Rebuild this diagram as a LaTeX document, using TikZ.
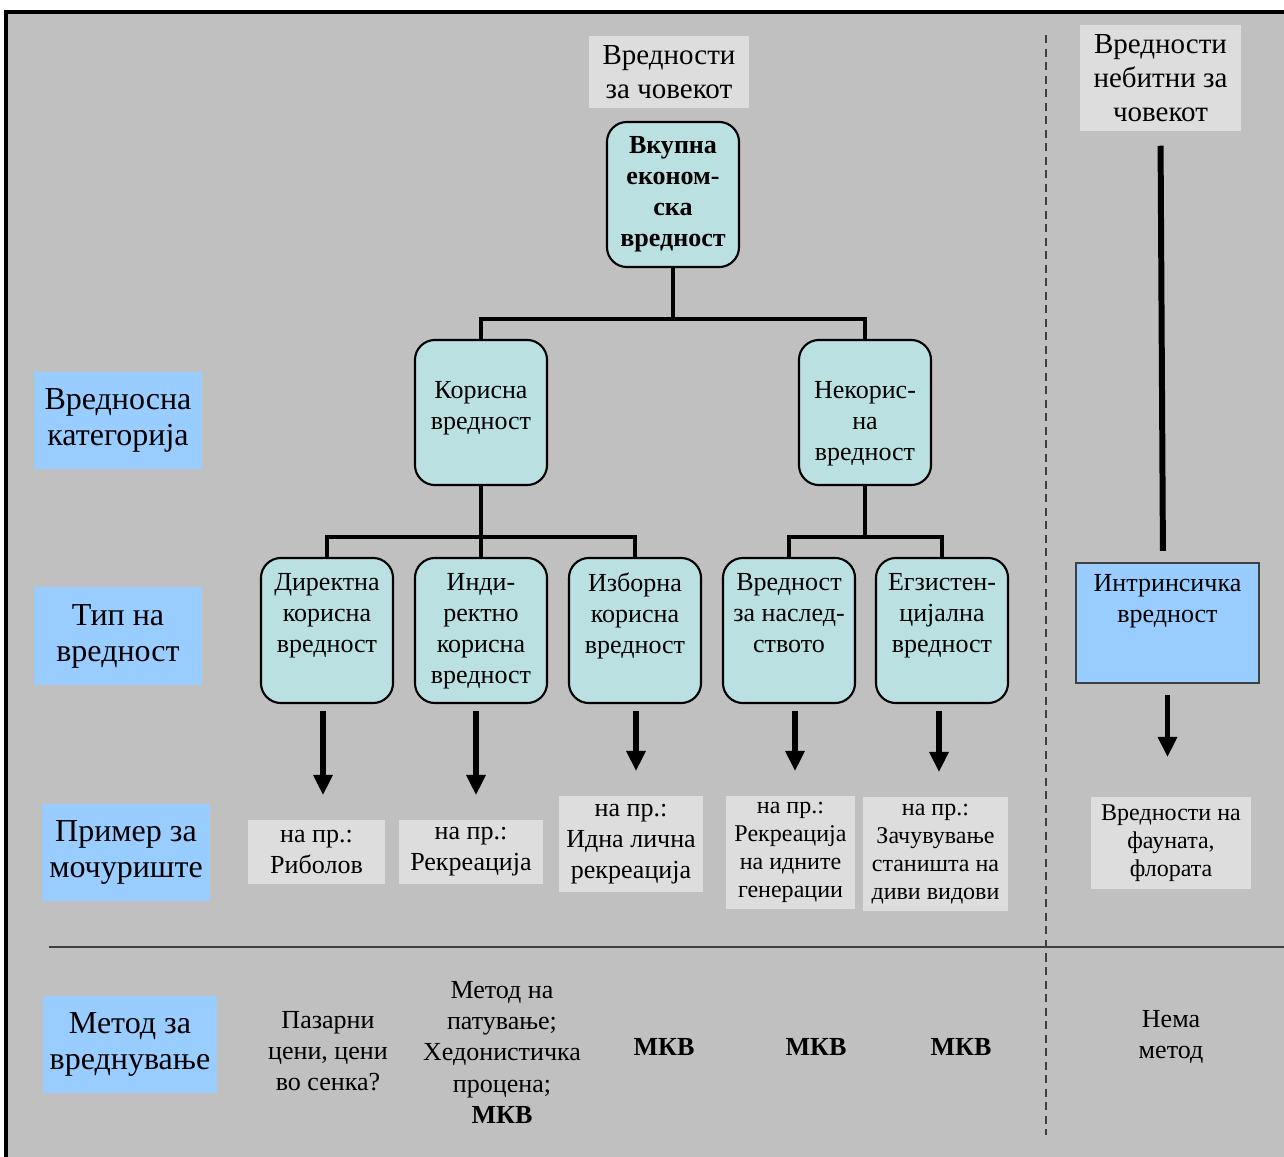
\documentclass[tikz,border=0pt]{standalone}
\usepackage{fontspec}
\setmainfont{Liberation Serif}
\usepackage{xcolor}
\definecolor{panel}{HTML}{C0C0C0}
\definecolor{notefill}{HTML}{DDDDDD}
\definecolor{headfill}{HTML}{99CCFF}
\definecolor{cellfill}{HTML}{BAE0E2}
\definecolor{rule}{HTML}{404040}
\usepackage{tikz}
\usetikzlibrary{arrows.meta, positioning, calc}
\newcommand{\cellsize}{\fontsize{7.4}{8.82}\selectfont}
\newcommand{\headsize}{\fontsize{9.1}{10.24}\selectfont}
\newcommand{\topsize}{\fontsize{8.25}{9.67}\selectfont}
\newcommand{\notesize}{\fontsize{6.83}{7.97}\selectfont}

\begin{document}
\begin{tikzpicture}[
  x=0.01cm, y=-0.01cm,
  font=\cellsize,
  cell/.style={
    draw, fill=cellfill, semithick, rounded corners=0.2cm,
    minimum width=1.32cm, minimum height=1.45cm, inner sep=1pt, align=center
  },
  celltext/.style={anchor=north, align=center, inner sep=0pt, yshift=-0.155cm, font=\cellsize},
  head/.style={fill=headfill, minimum width=1.68cm, minimum height=0.97cm, inner sep=1pt, align=center, font=\headsize},
  note/.style={fill=notefill, inner sep=1pt, align=center},
  link/.style={line width=1.4pt},
  pointer/.style={
    line width=1.5pt, -{Triangle[width=5.2pt,length=5.8pt]},
    shorten <=0.07cm, shorten >=0.24cm
  }
]
  \path[use as bounding box, fill=white] (0,0) rectangle (1284,1157);
  \clip (0,0) rectangle (1284,1157);
  \draw[line width=1.14pt, fill=panel] (6,12) rectangle (1300,1175);

  \draw[rule, line width=0.4pt, dash pattern=on 0.08cm off 0.055cm] (1046,35) -- (1046,1135);
  \draw[rule, line width=0.7pt] (49,947) -- (1284,947);

  \node[note, font=\topsize, minimum width=1.6cm, minimum height=0.72cm] (human) at (669,72) {Вредности\\за човекот};
  \node[note, font=\topsize, minimum width=1.61cm, minimum height=1.06cm] (nonhuman) at (1160.5,78) {Вредности\\небитни за\\човекот};

  \node[head] (cat) at (118,420.5) {Вредносна\\категорија};
  \node[head] (kind) at (118,636) {Тип на\\вредност};
  \node[head] (wet) at (126,852.5) {Пример за\\мочуриште};
  \node[head, minimum width=1.74cm] (meth) at (130,1044.5) {Метод за\\вреднување};

  \node[cell, font=\cellsize\bfseries] (total) at (673,194.5) {Вкупна\\економ-\\ска\\вредност};
  \node[cell, label={[celltext, yshift=-0.26cm]north:{Корисна\\вредност}}] (use) at (481,412.5) {};
  \node[cell, label={[celltext, yshift=-0.26cm]north:{Некорис-\\на\\вредност}}] (nonuse) at (865,412.5) {};

  \node[cell, label={[celltext]north:{Директна\\корисна\\вредност}}] (direct) at (327,630.5) {};
  \node[cell, label={[celltext]north:{Инди-\\ректно\\корисна\\вредност}}] (indirect) at (481,630.5) {};
  \node[cell, label={[celltext]north:{Изборна\\корисна\\вредност}}] (option) at (635,630.5) {};
  \node[cell, label={[celltext]north:{Вредност\\за наслед-\\ството}}] (bequest) at (789,630.5) {};
  \node[cell, label={[celltext]north:{Егзистен-\\цијална\\вредност}}] (exist) at (942,630.5) {};
  \node[draw=rule, semithick, fill=headfill, minimum width=1.83cm, minimum height=1.2cm,
    label={[celltext, yshift=0.04cm]north:{Интринсичка\\вредност}}] (intrinsic) at (1167.5,623) {};

  \node[note, minimum width=1.37cm, minimum height=0.64cm] (ex1) at (316.5,852) {на пр.:\\Риболов};
  \node[note, minimum width=1.44cm, minimum height=0.64cm] (ex2) at (471,852) {на пр.:\\Рекреација};
  \node[note, minimum width=1.44cm, minimum height=0.96cm] (ex3) at (631,844) {на пр.:\\Идна лична\\рекреација};
  \node[note, font=\notesize, minimum width=1.29cm, minimum height=1.13cm] (ex4) at (790.5,852.5) {на пр.:\\Рекреација\\на идните\\генерации};
  \node[note, font=\notesize, minimum width=1.45cm, minimum height=1.14cm] (ex5) at (935.5,854) {на пр.:\\Зачувување\\станишта на\\диви видови};
  \node[note, font=\notesize, minimum width=1.6cm, minimum height=0.92cm] (ex6) at (1171,843) {Вредности на\\фауната,\\флората};

  \node[align=center] (m1) at (328,1051) {Пазарни\\цени, цени\\во сенка?};
  \node[align=center] (m2) at (502,1052.5) {Метод на\\патување;\\Хедонистичка\\процена;\\\textbf{МКВ}};
  \node[font=\cellsize\bfseries] (m3) at (664,1047) {МКВ};
  \node[font=\cellsize\bfseries] (m4) at (816,1047) {МКВ};
  \node[font=\cellsize\bfseries] (m5) at (961,1047) {МКВ};
  \node[align=center] (m6) at (1171,1037) {Нема\\метод};

  \coordinate (split1) at (673,319);
  \coordinate (split2) at (481,537);
  \coordinate (split3) at (865,537);
  \draw[link] (total.south) -- (split1);
  \draw[link] (use.north) |- (split1) -| (nonuse.north);
  \draw[link] (use.south) -- (split2);
  \draw[link] (direct.north) |- (split2) -| (option.north);
  \draw[link] (split2) -- (indirect.north);
  \draw[link] (nonuse.south) -- (split3);
  \draw[link] (bequest.north) |- (split3) -| (exist.north);
  \draw[line width=1.7pt, shorten <=0.14cm, shorten >=0.11cm] (nonhuman.south) -- ([xshift=-0.045cm]intrinsic.north);

  \draw[pointer] ([xshift=-0.04cm]direct.south) -- ([xshift=-0.04cm]direct.south |- ex1.north);
  \draw[pointer] ([xshift=-0.05cm]indirect.south) -- ([xshift=-0.05cm]indirect.south |- ex2.north);
  \draw[pointer] ([xshift=0.01cm]option.south) -- ([xshift=0.01cm]option.south |- ex3.north);
  \draw[pointer] ([xshift=0.06cm]bequest.south) -- ([xshift=0.06cm]bequest.south |- ex4.north);
  \draw[pointer] ([xshift=-0.03cm]exist.south) -- ([xshift=-0.03cm]exist.south |- ex5.north);
  \draw[pointer, shorten <=0.11cm, shorten >=0.39cm] (intrinsic.south) -- (intrinsic.south |- ex6.north);
\end{tikzpicture}
\end{document}
